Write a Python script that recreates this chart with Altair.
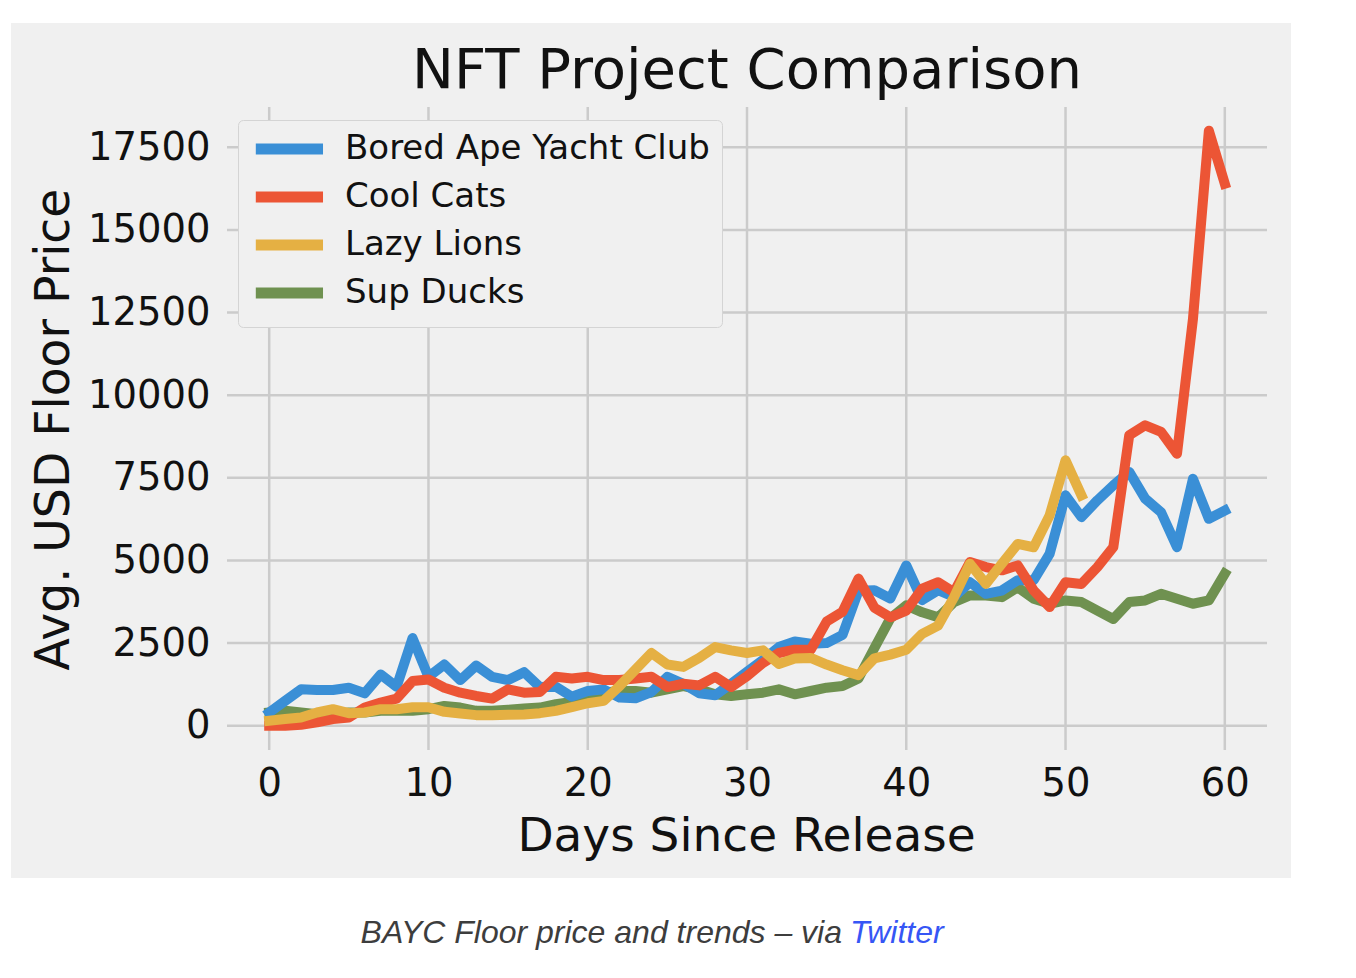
import altair as alt
import pandas as pd

# ---------------- data ----------------
days = list(range(61))

bayc = [400, 750, 1100, 1080, 1080, 1150, 980, 1550, 1180, 2650,
        1480, 1850, 1380, 1820, 1480, 1380, 1620, 1170, 1180, 880,
        1050, 1100, 850, 830, 1020, 1480, 1270, 980, 920, 1270,
        1630, 1990, 2380, 2550, 2480, 2500, 2750, 4080, 4100, 3850,
        4850, 3800, 4100, 3900, 4340, 3990, 4090, 4400, 4400, 5200,
        6970, 6310, 6820, 7270, 7680, 6870, 6460, 5400, 7470, 6260,
        6510]

cool_cats = [0, 0, 30, 100, 200, 250, 550, 700, 820, 1350,
             1400, 1150, 1000, 900, 820, 1100, 1000, 1020, 1480, 1430,
             1480, 1380, 1380, 1430, 1480, 1170, 1270, 1220, 1480, 1170,
             1500, 1900, 2200, 2300, 2300, 3150, 3450, 4450, 3570, 3280,
             3480, 4150, 4340, 4040, 4950, 4800, 4700, 4850, 4090, 3590,
             4340, 4290, 4800, 5400, 8790, 9090, 8890, 8230, 12300, 18000,
             16400]

lazy_lions = [150, 200, 250, 400, 500, 380, 400, 500, 500, 560,
              560, 420, 370, 320, 320, 330, 340, 380, 450, 560,
              680, 750, 1200, 1700, 2200, 1850, 1780, 2050, 2380, 2280,
              2200, 2280, 1870, 2030, 2050, 1850, 1680, 1530, 2040, 2150,
              2300, 2780, 3030, 3890, 4900, 4290, 4900, 5500, 5400, 6360,
              8030, 6970]

sup_ducks = [400, 450, 400, 350, 350, 400, 400, 450, 450, 450,
             500, 600, 550, 450, 450, 480, 520, 550, 650, 720,
             820, 1000, 1050, 1050, 1000, 1100, 1200, 1100, 950, 900,
             950, 1000, 1100, 950, 1050, 1150, 1200, 1430, 2350, 3250,
             3640, 3430, 3280, 3740, 3940, 3940, 3890, 4190, 3840, 3690,
             3790, 3740, 3480, 3230, 3740, 3790, 3990, 3840, 3690, 3790,
             4600]

series_names = ["Bored Ape Yacht Club", "Cool Cats", "Lazy Lions", "Sup Ducks"]
series_colors = ["#3a8fd6", "#ec5535", "#e5b043", "#6f9150"]
series_values = [bayc, cool_cats, lazy_lions, sup_ducks]

x_ticks = [0, 10, 20, 30, 40, 50, 60]
y_ticks = [0, 2500, 5000, 7500, 10000, 12500, 15000, 17500]

title_text = "NFT Project Comparison"
x_title = "Days Since Release"
y_title = "Avg. USD Floor Price"
caption_main = "BAYC Floor price and trends \u2013 via"
caption_link = "Twitter"

# ---------------- table ----------------
rows = []
for name, vals in zip(series_names, series_values):
    for d, v in zip(days, vals):
        rows.append({"day": d, "price": v, "series": name})
df = pd.DataFrame(rows)

FONT = "DejaVu Sans"
INK = "#111111"
W, H = 1040, 643

xscale = alt.Scale(domain=[-2.65, 62.65], nice=False, zero=False)
yscale = alt.Scale(domain=[-735, 18720], nice=False, zero=False)

xaxis = alt.Axis(title=x_title, values=x_ticks, grid=False, domain=False,
                 ticks=False, tickSize=0, labelFont=FONT, labelFontSize=38.5,
                 labelColor=INK, labelPadding=15, labelFlush=False,
                 titleFont=FONT, titleFontSize=47, titleFontWeight="normal",
                 titleColor=INK, titleX=519, titleY=100,
                 titleBaseline="alphabetic", titleAlign="center", zindex=1)
yaxis = alt.Axis(title=y_title, values=y_ticks, format="d", grid=False,
                 domain=False, ticks=False, tickSize=0, labelFont=FONT,
                 labelFontSize=38.5, labelColor=INK, labelPadding=17,
                 labelFlush=False,
                 titleFont=FONT, titleFontSize=47.3, titleFontWeight="normal",
                 titleColor=INK, titleX=-159, titleY=322, titleAngle=270,
                 titleBaseline="alphabetic", titleAlign="center", zindex=1)

color_scale = alt.Scale(domain=series_names, range=series_colors)
# long legend stroke drawn by a custom path so that the row height stays small
legend = alt.Legend(title=None, orient="none", legendX=11, legendY=13,
                    direction="vertical", symbolType="M-1,0H5",
                    symbolSize=502, symbolStrokeWidth=11, symbolOpacity=1,
                    labelFont=FONT, labelFontSize=34, labelColor=INK,
                    labelOffset=61, labelLimit=800, rowPadding=4,
                    padding=12, fillColor="#f0f0f0", strokeColor="#d4d4d4",
                    cornerRadius=5)

# ---------------- layers ----------------
bg = alt.Chart(pd.DataFrame({"a": [0]})).mark_rect(color="#f0f0f0").encode(
    x=alt.value(-216), x2=alt.value(1064), y=alt.value(-84), y2=alt.value(771)
)

vgrid = alt.Chart(pd.DataFrame({"day": x_ticks})).mark_rule(
    color="#cbcbcb", strokeWidth=2.5
).encode(x=alt.X("day:Q", scale=xscale, axis=xaxis))

hgrid = alt.Chart(pd.DataFrame({"price": y_ticks})).mark_rule(
    color="#cbcbcb", strokeWidth=2.5
).encode(y=alt.Y("price:Q", scale=yscale, axis=yaxis))


def line_layer(name):
    return alt.Chart(df).transform_filter(
        alt.datum.series == name
    ).mark_line(strokeWidth=10, strokeJoin="round", strokeCap="square").encode(
        x=alt.X("day:Q", scale=xscale, axis=xaxis),
        y=alt.Y("price:Q", scale=yscale, axis=yaxis),
        color=alt.Color("series:N", scale=color_scale, legend=legend),
    )


draw_order = ["Sup Ducks", "Bored Ape Yacht Club", "Cool Cats", "Lazy Lions"]
lines = [line_layer(n) for n in draw_order]

title_mark = alt.Chart(pd.DataFrame({"t": [title_text]})).mark_text(
    font=FONT, fontSize=56, color=INK, align="center", baseline="alphabetic"
).encode(text="t:N", x=alt.value(520), y=alt.value(-19))

cap1 = alt.Chart(pd.DataFrame({"t": [caption_main]})).mark_text(
    font="Liberation Sans", fontStyle="italic", fontSize=32, color="#3d3d3d",
    align="right", baseline="alphabetic"
).encode(text="t:N", x=alt.value(615), y=alt.value(836))

cap2 = alt.Chart(pd.DataFrame({"t": [caption_link]})).mark_text(
    font="Liberation Sans", fontStyle="italic", fontSize=32, color="#3656f5",
    align="left", baseline="alphabetic"
).encode(text="t:N", x=alt.value(623), y=alt.value(836))

chart = alt.layer(bg, vgrid, hgrid, *lines, title_mark, cap1, cap2).properties(
    width=W, height=H,
    autosize=alt.AutoSizeParams(type="none"),
    padding={"left": 219, "top": 99, "right": 81, "bottom": 210},
    background="white",
).configure_view(strokeWidth=0)

chart.save("out.html", embed_options={"renderer": "svg", "actions": False})
